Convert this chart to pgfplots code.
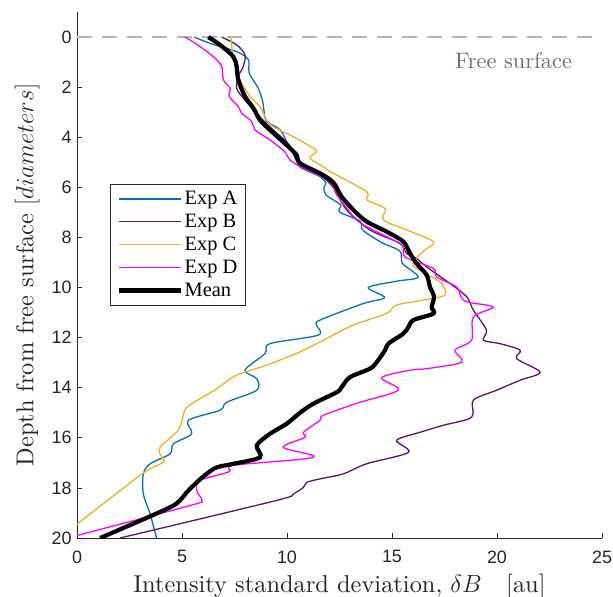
\documentclass[border=0pt]{standalone}
\usepackage{fontspec}
\setmainfont{lmroman10-regular.otf}[ItalicFont=lmroman10-italic.otf, BoldFont=lmroman10-bold.otf]
\usepackage{pgfplots}
\pgfplotsset{compat=1.18}
\newfontfamily\arialf{Liberation Sans}
\newfontfamily\timesf{Liberation Serif}
\definecolor{mblue}{HTML}{0072BD}
\definecolor{mpurple}{RGB}{90,20,110}
\definecolor{myellow}{HTML}{EDB120}
\definecolor{mmag}{HTML}{FF00FF}
\definecolor{axgray}{HTML}{262626}
\begin{document}
\begin{tikzpicture}
\begin{axis}[
  scale only axis, width=525bp, height=526bp,
  at={(0,0)}, anchor=south west,
  xmin=0, xmax=25, ymin=-1, ymax=20, y dir=reverse,
  axis x line*=bottom, axis y line*=left,
  axis line style={axgray, line width=0.8bp, -},
  xtick={0,5,...,25}, ytick={0,2,...,20},
  tick align=inside, major tick length=5bp,
  tick style={axgray, line width=0.8bp},
  /pgf/number format/assume math mode=true,
  ticklabel style={font=\arialf\fontsize{18}{18}\selectfont, text=axgray},
  xticklabel style={yshift=-9bp},
  yticklabel style={xshift=-2bp},
  xlabel={Intensity standard deviation, $\delta B$\quad [au]},
  ylabel={Depth from free surface $[diameters]$},
  label style={font=\fontsize{24.5}{24.5}\selectfont, text=axgray},
  xlabel style={at={(axis description cs:0.5,-0.1027)}, anchor=base},
  ylabel style={at={(axis description cs:-0.095,0.5)}, anchor=center},
  legend style={at={(axis description cs:0.0629,0.673)}, anchor=north west,
    draw=axgray, line width=0.8bp, font=\timesf\fontsize{20.5}{20.5}\selectfont,
    inner xsep=6bp, inner ysep=5bp, row sep=4bp},
  legend cell align=left,
  legend image code/.code={\draw[#1] (0bp,0bp) -- (62bp,0bp);},
  clip=true,
]
\addplot[color={rgb,255:red,180;green,180;blue,180}, line width=1.5bp, dash pattern=on 15bp off 10bp, forget plot] coordinates {(0,0) (25,0)};
\addplot[mblue, line width=1.3bp, smooth] coordinates {
(5.57,0.0) (6.5,0.3) (7.6,0.58) (8.16,0.9) (8.2,1.44) (8.63,2.04) (8.84,2.57) (8.92,3.04) (9.03,3.37) (9.67,3.7) (10.0,4.2) (10.46,4.77) (10.6,5.18) (11.57,5.57) (11.85,5.84) (11.76,6.0) (11.85,6.3) (12.55,6.7) (12.5,6.98) (13.48,7.35) (13.6,7.7) (14.5,8.2) (15.38,8.55) (15.5,9.04) (16.25,9.58) (15.2,9.75) (13.87,10.0) (14.65,10.4) (13.63,10.64) (11.57,11.3) (11.41,11.5) (11.49,11.9) (9.19,12.24) (8.95,12.64) (8.0,13.3) (8.56,13.64) (8.56,14.1) (7.13,14.58) (6.81,14.9) (5.3,15.3) (5.46,15.84) (4.59,16.24) (4.43,16.64) (3.48,17.04) (3.16,17.44) (3.16,18.24) (3.48,19.04) (3.79,20.0)};
\addlegendentry{Exp A}
\addplot[mpurple, line width=1.3bp, smooth] coordinates {
(6.89,0.0) (7.6,0.31) (8.0,0.71) (7.92,1.17) (7.68,1.57) (7.6,2.04) (7.92,2.44) (8.4,2.9) (8.9,3.35) (9.4,3.75) (10.1,4.3) (10.54,5.04) (11.5,5.45) (12.2,6.0) (12.84,6.9) (13.95,7.7) (15.38,8.24) (15.7,8.64) (16.17,8.84) (16.65,9.18) (17.76,9.84) (18.56,10.37) (18.87,10.9) (19.5,11.7) (19.35,12.1) (20.14,12.24) (21.1,12.5) (20.94,12.84) (22.05,13.38) (21.1,13.7) (19.98,14.1) (18.87,14.5) (18.79,15.18) (17.44,15.5) (16.33,15.78) (15.22,16.1) (15.78,16.58) (13.78,17.04) (12.68,17.44) (11.57,17.64) (10.94,17.78) (10.78,17.98) (10.3,18.24) (9.5,18.5) (2.05,20.0)};
\addlegendentry{Exp B}
\addplot[myellow, line width=1.3bp, smooth] coordinates {
(7.33,0.0) (7.4,0.58) (7.52,1.04) (7.76,1.71) (8.24,2.37) (8.71,2.77) (9.03,3.31) (9.35,3.58) (10.3,3.98) (11.25,4.44) (11.4,4.58) (11.1,4.84) (11.73,5.18) (12.05,5.38) (12.2,5.44) (13.8,6.18) (13.8,6.5) (14.67,6.84) (14.59,7.3) (15.7,7.7) (16.97,8.17) (16.57,8.5) (16.0,9.1) (17.29,9.78) (17.52,10.3) (16.49,10.5) (15.22,10.7) (14.73,11.04) (13.16,11.5) (11.57,12.17) (10.62,12.57) (9.03,13.1) (7.6,13.5) (6.65,14.04) (5.86,14.44) (5.22,14.78) (5.06,15.1) (4.82,15.7) (3.95,16.38) (4.03,16.78) (4.11,16.98) (3.1,17.44) (0.0,19.45)};
\addlegendentry{Exp C}
\addplot[mmag, line width=1.3bp, smooth] coordinates {
(5.14,0.0) (5.62,0.24) (6.49,0.78) (6.89,1.17) (6.97,1.71) (7.29,2.04) (7.25,2.37) (7.68,2.77) (7.84,3.04) (8.32,3.37) (8.48,3.71) (9.19,4.11) (9.9,4.58) (10.14,4.91) (10.94,5.31) (11.73,5.58) (12.2,5.9) (12.37,6.3) (13.32,7.3) (14.1,7.7) (15.46,8.3) (15.62,8.78) (16.97,9.24) (17.13,9.58) (18.08,9.98) (18.32,10.44) (18.71,10.6) (19.82,10.78) (18.87,11.18) (18.79,12.1) (18.0,12.5) (18.32,12.98) (16.65,13.24) (15.86,13.3) (14.51,13.6) (15.3,14.1) (13.4,14.6) (11.73,15.1) (11.57,15.3) (10.78,15.78) (10.86,15.98) (9.82,16.38) (11.25,16.78) (7.44,17.1) (7.25,17.35) (5.86,17.7) (5.7,18.1) (5.94,18.5) (5.4,18.7) (0.0,19.9)};
\addlegendentry{Exp D}
\addplot[black, line width=4.2bp, smooth] coordinates {
(6.25,0.0) (6.81,0.31) (7.44,0.78) (7.6,1.17) (7.68,1.71) (8.0,2.37) (8.4,2.84) (8.71,3.31) (9.19,3.71) (9.98,4.31) (10.46,4.71) (10.62,5.04) (11.57,5.44) (12.2,5.8) (12.6,6.37) (13.16,6.9) (13.8,7.37) (14.75,7.77) (15.54,8.17) (15.86,8.64) (16.17,9.04) (16.65,9.5) (16.81,9.98) (17.0,10.37) (16.89,10.78) (16.97,11.04) (16.02,11.3) (15.78,11.58) (15.54,11.84) (14.83,12.24) (14.67,12.5) (14.27,12.98) (13.95,13.24) (13.0,13.58) (12.6,13.98) (12.37,14.18) (11.25,14.64) (10.62,15.0) (9.98,15.44) (9.19,15.84) (8.56,16.3) (8.71,16.78) (7.44,17.04) (6.65,17.18) (6.17,17.44) (5.7,17.78) (5.22,18.18) (4.9,18.5) (4.27,18.84) (1.1,20.0)};
\addlegendentry{Mean}
\node[anchor=base, text={rgb,255:red,110;green,110;blue,110}, font=\fontsize{22.5}{22.5}\selectfont] at (axis cs:20.79,1.24) {Free surface};
\end{axis}
\pgfresetboundingbox
\path[use as bounding box] (-77bp,-59bp) rectangle (536bp,538bp);
\end{tikzpicture}
\end{document}
